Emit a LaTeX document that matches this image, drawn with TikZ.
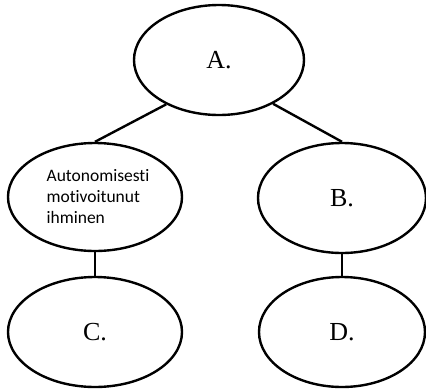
\documentclass[tikz,border=0pt]{standalone}
\usepackage{fontspec}
\setmainfont{Liberation Serif}
\newfontfamily\calib[Ligatures=NoCommon]{Carlito}
\usetikzlibrary{shapes.geometric}
\begin{document}
\begin{tikzpicture}[x=1pt,y=-1pt,
  oval/.style={draw=black,line width=2.4pt,ellipse,inner sep=0pt,
    minimum width=170pt,minimum height=110pt,font=\fontsize{26}{30}\selectfont},
  link/.style={draw=black,line width=2.4pt}]
\useasboundingbox (0,0) rectangle (426,389);
\node[oval] (A) at (219,60) {A.};
\node[oval,minimum width=174pt,minimum height=108pt,align=left,
  font=\calib\fontsize{17.5}{21}\selectfont] (L) at (95,197)
  {\hspace*{6pt}Autonomisesti\\\hspace*{6pt}motivoitunut\\\hspace*{6pt}ihminen};
\node[oval,minimum width=168pt] (B) at (342,198) {B.};
\node[oval,minimum width=174pt] (C) at (95,332) {C.};
\node[oval,minimum width=166pt] (D) at (342,332) {D.};
\draw[link] (A.-140) -- (L.north);
\draw[link] (A.-39) -- (B.north);
\draw[link] (L.south) -- (C.north);
\draw[link] (B.south) -- (D.north);
\end{tikzpicture}
\end{document}
